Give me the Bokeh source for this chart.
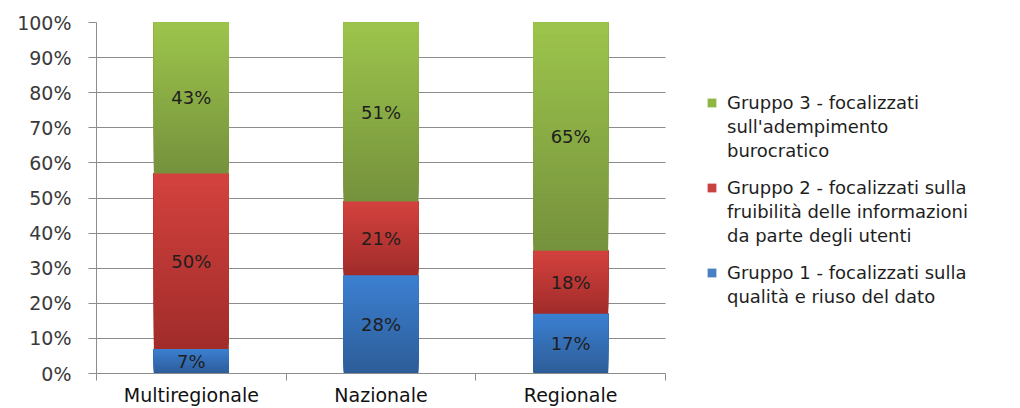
from bokeh.plotting import figure
from bokeh.models import (Range1d, LinearAxis, FixedTicker,
                          Legend, LegendItem, ColumnDataSource)
from bokeh.core.properties import value
from bokeh.embed import file_html
from bokeh.resources import INLINE

# ---------------- data ----------------
categories = ["Multiregionale", "Nazionale", "Regionale"]
gruppo1 = [7, 28, 17]
gruppo2 = [50, 21, 18]
gruppo3 = [43, 51, 65]
series_names = [
    ["Gruppo 1 - focalizzati sulla", "qualità e riuso del dato"],
    ["Gruppo 2 - focalizzati sulla", "fruibilità delle informazioni", "da parte degli utenti"],
    ["Gruppo 3 - focalizzati", "sull'adempimento", "burocratico"],
]
y_ticks = [0, 10, 20, 30, 40, 50, 60, 70, 80, 90, 100]
y_tick_labels = ["0%", "10%", "20%", "30%", "40%", "50%", "60%", "70%", "80%", "90%", "100%"]

# ---------------- style / layout ----------------
FONT = "DejaVu Sans"
grad = [((60, 128, 210), (45, 93, 152)),     # blue top -> bottom
        ((212, 66, 62), (160, 44, 42)),      # red
        ((157, 197, 76), (117, 145, 60))]    # green
legend_cols = ["#4a7fc4", "#c8433f", "#8db644"]
legend_pos = [(610, 65), (610, 126), (610, 211)]
GRID = "#8c8c8c"
N = 40
W, H = 1020, 408
LEFT, PLOT_RIGHT = 96, 665

ncat = len(categories)
xpos = [i + 0.5 for i in range(ncat)]  # category slot centres
bnd = list(range(ncat + 1))
x_end = ncat * (W - LEFT) / (PLOT_RIGHT - LEFT)  # frame spans to the right edge (legend lives there)

p = figure(width=W, height=H, output_backend="svg", toolbar_location=None,
           x_range=Range1d(0, x_end), y_range=Range1d(0, 100),
           x_axis_location=None, y_axis_location=None,
           min_border_left=LEFT, min_border_right=0, min_border_top=22, min_border_bottom=33)
p.outline_line_color = None
p.background_fill_color = "white"
p.xgrid.visible = False
p.ygrid.ticker = FixedTicker(ticks=y_ticks)
p.ygrid.grid_line_color = GRID
p.ygrid.grid_line_width = 1
p.ygrid.cross_bounds = (0, ncat)

# y axis
yax = LinearAxis(ticker=FixedTicker(ticks=y_ticks),
                 major_label_overrides={t: l for t, l in zip(y_ticks, y_tick_labels)})
yax.axis_line_color = GRID
yax.major_tick_line_color = GRID
yax.major_tick_out = 8
yax.major_tick_in = 0
yax.minor_tick_line_color = None
yax.major_label_standoff = 17
yax.major_label_text_font = FONT
yax.major_label_text_font_size = "19px"
yax.major_label_text_color = "#3a3a3a"
p.add_layout(yax, "left")

# x axis: labels at slot centres, ticks on slot boundaries (minor ticks)
xax = LinearAxis(ticker=FixedTicker(ticks=xpos, minor_ticks=bnd),
                 major_label_overrides={x: c for x, c in zip(xpos, categories)},
                 bounds=(0, ncat))
xax.axis_line_color = GRID
xax.major_tick_line_color = None
xax.major_tick_out = 0
xax.major_tick_in = 0
xax.minor_tick_line_color = GRID
xax.minor_tick_out = 7
xax.minor_tick_in = 0
xax.major_label_text_font = FONT
xax.major_label_text_font_size = "19px"
xax.major_label_text_color = "#111111"
xax.major_label_standoff = 3
p.add_layout(xax, "below")

# stacked bars with vertical gradient per segment
series = [gruppo1, gruppo2, gruppo3]
bottoms = [0] * ncat
BAR_W = 0.395
label_x, label_y, label_t = [], [], []
for s_idx, vals in enumerate(series):
    top_c, bot_c = grad[s_idx]
    xs, bs, ts, cs = [], [], [], []
    for c_idx in range(ncat):
        b = bottoms[c_idx]
        v = vals[c_idx]
        h = v / N
        for i in range(N):
            f = (i + 0.5) / N  # 0 bottom -> 1 top
            col = tuple(int(round(bot_c[k] + (top_c[k] - bot_c[k]) * f)) for k in range(3))
            xs.append(xpos[c_idx])
            bs.append(b + i * h)
            ts.append(b + v)
            cs.append("#%02x%02x%02x" % col)
        label_x.append(xpos[c_idx])
        label_y.append(b + v / 2)
        label_t.append(f"{v}%")
        bottoms[c_idx] = b + v
    src = ColumnDataSource(dict(x=xs, bottom=bs, top=ts, color=cs))
    p.vbar(x="x", bottom="bottom", top="top", width=BAR_W, source=src,
           fill_color="color", line_color=None)

# value labels
p.text(x=label_x, y=label_y, text=label_t, text_align="center", text_baseline="middle",
       text_font=value(FONT), text_font_size="18px", text_color="#1e1e1e")

# legend: one small legend per series, glyph on first text line only
for s_idx in [2, 1, 0]:
    vis = p.vbar(x=[xpos[0]], bottom=[-60], top=[-50], width=0.1,
                 fill_color=legend_cols[s_idx], line_color=None)
    inv = p.vbar(x=[xpos[0]], bottom=[-60], top=[-50], width=0.1,
                 fill_alpha=0, line_alpha=0)
    items = [LegendItem(label=line, renderers=[vis if j == 0 else inv])
             for j, line in enumerate(series_names[s_idx])]
    lg = Legend(items=items, location=legend_pos[s_idx], padding=0, margin=0,
                border_line_color=None, background_fill_alpha=0,
                glyph_width=11, glyph_height=11, label_standoff=10, spacing=0,
                label_height=24, label_text_font=FONT, label_text_font_size="18px",
                label_text_color="#1e1e1e")
    p.add_layout(lg, "center")

open("out.html", "w").write(file_html(p, INLINE))
